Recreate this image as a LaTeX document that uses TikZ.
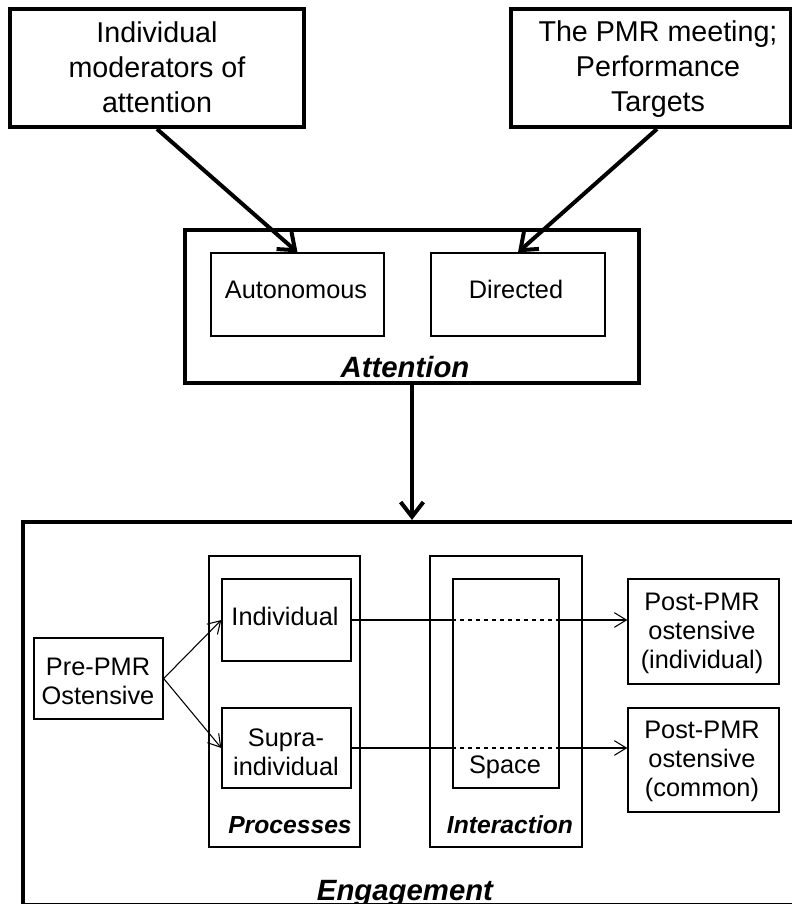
\documentclass[tikz,border=0pt]{standalone}
\usepackage{fontspec}
\setmainfont{Liberation Sans}
\usetikzlibrary{arrows.meta,fit}
\begin{document}
\begin{tikzpicture}[x=0.75pt,y=-0.75pt,
  thickbox/.style={draw, line width=3pt, inner sep=0pt},
  thinbox/.style={draw, line width=1pt, inner sep=0pt},
  bigtxt/.style={font=\fontsize{21.5}{26.25}\selectfont, align=center, inner sep=0pt},
  txt/.style={font=\fontsize{19}{21.75}\selectfont, align=center, inner sep=0pt},
  lbl/.style={font=\fontsize{22}{26}\selectfont\bfseries\itshape, inner sep=0pt, anchor=base},
  sublbl/.style={font=\fontsize{18.5}{22}\selectfont\bfseries\itshape, inner sep=0pt, anchor=base},
  bigarrow/.style={line width=3pt, -{Straight Barb[length=11pt,width=17pt]}},
  thinarrow/.style={line width=0.8pt, -{Straight Barb[length=9pt,width=11pt]}},
  thinline/.style={line width=0.8pt},
]
\useasboundingbox (0,0) rectangle (792,904);

% top boxes
\node[thickbox, fit={(10,9)(304,127)}] (mod) {};
\node[bigtxt] (tmod) at (157,67) {Individual\\moderators of\\attention};
\node[thickbox, fit={(511,9)(791,127)}] (pmr) {};
\node[bigtxt] (tpmr) at (658,69) {The PMR meeting;\\Performance\\Targets};

% attention
\node[thickbox, fit={(185,230)(639,383)}] (att) {};
\node[thinbox, fit={(211,253)(384,336)}] (auto) {};
\node[txt, anchor=base] (tauto) at (296,298) {Autonomous};
\node[thinbox, fit={(431,253)(605,336)}] (dir) {};
\node[txt, anchor=base] (tdir) at (516,298) {Directed};
\node[lbl] (tatt) at (405,377) {Attention};

\draw[bigarrow] (mod.south) -- (auto.north);
\draw[bigarrow] ([xshift=4.5pt]pmr.south) -- (dir.north);

% engagement
\node[thickbox, fit={(23,522)(800,905)}] (eng) {};
\node[lbl] (teng) at (405,900) {Engagement};
\draw[bigarrow] (att.south) -- (att.south |- eng.north);

\node[thinbox, fit={(34,638)(163,719)}] (pre) {};
\node[txt] (tpre) at (98,681.5) {Pre-PMR\\Ostensive};

\node[thinbox, fit={(209,556)(360,847)}] (proc) {};
\node[thinbox, fit={(222,579)(351,661)}] (ind) {};
\node[txt, anchor=base] (tind) at (285,625) {Individual};
\node[thinbox, fit={(222,708)(351,788)}] (sup) {};
\node[txt] (tsup) at (286,752) {Supra-\\individual};
\node[sublbl] (tproc) at (290,833) {Processes};

\node[thinbox, fit={(430,556)(582,847)}] (inter) {};
\node[thinbox, fit={(453,579)(559,788)}] (space) {};
\node[txt, anchor=base] (tspace) at (505,773) {Space};
\node[sublbl] (tinter) at (510,833) {Interaction};

\node[thinbox, fit={(628,579)(779,684)}] (posti) {};
\node[txt] (tposti) at (702,633) {Post-PMR\\ostensive\\(individual)};
\node[thinbox, fit={(628,708)(779,812)}] (postc) {};
\node[txt] (tpostc) at (702,761.5) {Post-PMR\\ostensive\\(common)};

\draw[thinarrow] (pre.east) -- (ind.west);
\draw[thinarrow] (pre.east) -- (sup.west);

\draw[thinline] (ind.east) -- (ind.east -| space.west);
\draw[thinline, dashed] (ind.east -| space.west) -- (ind.east -| space.east);
\draw[thinarrow] (ind.east -| space.east) -- (ind.east -| posti.west);

\draw[thinline] (sup.east) -- (sup.east -| space.west);
\draw[thinline, dashed] (sup.east -| space.west) -- (sup.east -| space.east);
\draw[thinarrow] (sup.east -| space.east) -- (sup.east -| postc.west);
\end{tikzpicture}
\end{document}
